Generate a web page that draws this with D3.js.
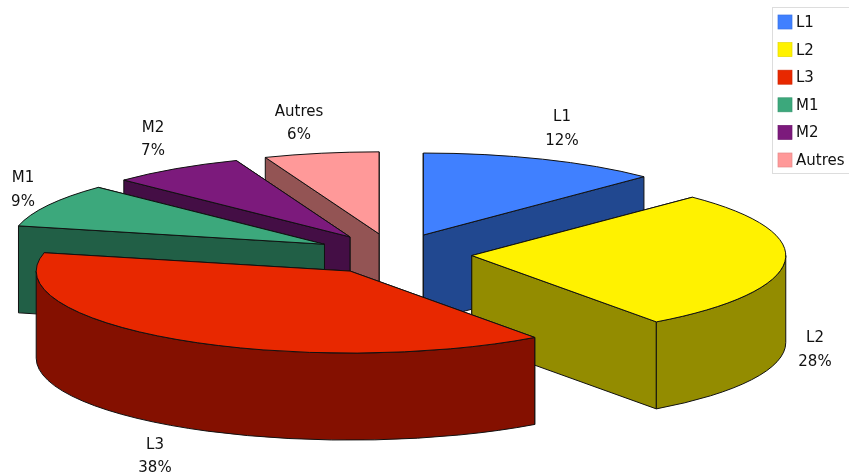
<!DOCTYPE html>
<html><head><meta charset="utf-8">
<script src="https://cdn.jsdelivr.net/npm/d3@7"></script>
<style>html,body{margin:0;padding:0;background:#fff}svg{display:block;filter:blur(0.35px)}text{font-family:"DejaVu Sans",sans-serif;fill:#111}</style>
</head><body><svg id="c" width="849" height="476"></svg>
<script>
const categories = ["L1","L2","L3","M1","M2","Autres"];
const values = [12.4,27.6,38.6,8.6,6.9,5.9];
const percentLabels = ["12%","28%","38%","9%","7%","6%"];
const topColors = ["#4080ff","#fff200","#e82800","#3ca87c","#7c1a7c","#ff9999"];
const wallColors = ["#214890","#938c00","#841000","#215f46","#440e45","#935454"];
const drawOrder = [5,4,3,0,1,2];

const W=849,H=476,cx=393.5,cy=254,rx=314,ry=82,depth=87,explode=0.25;
const svg=d3.select("#c");
const sx=d3.scaleLinear().domain([-1,1]).range([cx-rx,cx+rx]);
const sy=d3.scaleLinear().domain([-1,1]).range([cy-ry,cy+ry]);
const arcs=d3.pie().sort(null).value(d=>d).startAngle(0).endAngle(2*Math.PI)(values);

function geom(a){
  const mid=(a.startAngle+a.endAngle)/2;
  const dx=sx(explode*Math.sin(mid))-cx, dy=sy(-explode*Math.cos(mid))-cy;
  const pt=(t,r=1,z=0)=>[sx(r*Math.sin(t))+dx, sy(-r*Math.cos(t))+dy+z];
  return {mid,pt};
}
function arcTo(p,pt,a0,a1,z){
  const e=pt(a1,1,z), large=Math.abs(a1-a0)>Math.PI?1:0, sweep=a1>a0?1:0;
  p.push(`A${rx},${ry} 0 ${large} ${sweep} ${e[0]},${e[1]}`);
}
const g=svg.append("g");
const style=(s)=>s.attr("stroke","#111").attr("stroke-width",1).attr("stroke-linejoin","round");
drawOrder.forEach(i=>{
  const a=arcs[i],{pt}=geom(a),s=a.startAngle,e=a.endAngle,c=pt(0,0),cb=pt(0,0,depth);
  // radial walls, the one further back first
  [s,e].sort((u,v)=>Math.cos(v)-Math.cos(u)).forEach(t=>{
    const o=pt(t),ob=pt(t,1,depth);
    g.append("path").attr("d",`M${c}L${o}L${ob}L${cb}Z`).attr("fill",wallColors[i]).call(style);
  });
  // outer wall: only the part facing the viewer
  const f0=Math.max(s,Math.PI/2),f1=Math.min(e,3*Math.PI/2);
  if(f1>f0){
    const p=[`M${pt(f0)}`];arcTo(p,pt,f0,f1,0);
    p.push(`L${pt(f1,1,depth)}`);arcTo(p,pt,f1,f0,depth);p.push("Z");
    g.append("path").attr("d",p.join("")).attr("fill",wallColors[i]).call(style);
  }
  // top face
  const p=[`M${c}L${pt(s)}`];arcTo(p,pt,s,e,0);p.push("Z");
  g.append("path").attr("d",p.join("")).attr("fill",topColors[i]).call(style);
});
// labels
const labelPos=[[562,116,140],[815,337,361],[155,444,467],[23,177,201],[153,127,150],[299,111,134]];
categories.forEach((c,i)=>{
  const lp=labelPos[i];
  const t=svg.append("g").attr("text-anchor","middle").attr("font-size",15);
  t.append("text").attr("x",lp[0]).attr("y",lp[1]+5).text(c);
  t.append("text").attr("x",lp[0]).attr("y",lp[2]+5).text(percentLabels[i]);
});
// legend
const leg=svg.append("g");
leg.append("rect").attr("x",772.5).attr("y",7.5).attr("width",80).attr("height",166).attr("fill","#fff").attr("stroke","#ddd");
const ly=d3.scalePoint().domain(categories).range([22,160]);
categories.forEach((c,i)=>{
  leg.append("rect").attr("x",778).attr("y",ly(c)-7).attr("width",14).attr("height",14).attr("fill",topColors[i]).attr("stroke",d3.color(topColors[i]).darker(0.3)).attr("stroke-width",0.7);
  leg.append("text").attr("x",796).attr("y",ly(c)+5).attr("font-size",15).text(c);
});
</script></body></html>
